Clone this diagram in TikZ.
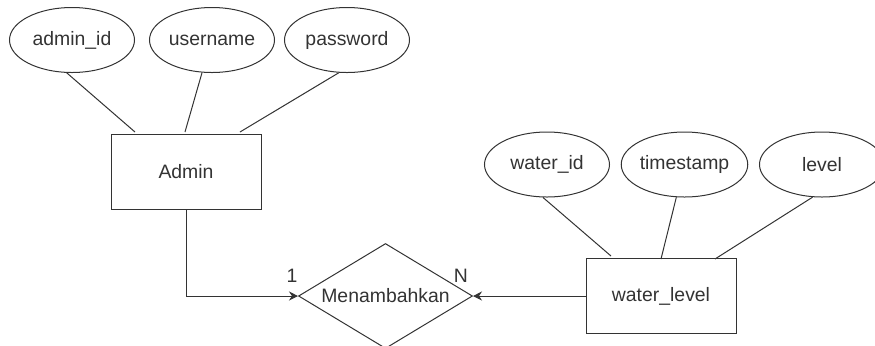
\documentclass[tikz,border=0pt]{standalone}
\usepackage{fontspec}
\setmainfont{Liberation Sans}
\usetikzlibrary{shapes.geometric}
\usetikzlibrary{arrows.meta}
\usetikzlibrary{positioning}
\definecolor{ink}{HTML}{333333}
\tikzset{
  entity/.style = {draw=ink, rectangle, minimum width=75pt, minimum height=37.5pt, inner sep=0pt},
  attrib/.style = {draw=ink, ellipse, minimum width=62.5pt, minimum height=32.5pt, inner sep=0pt},
  relation/.style = {draw=ink, diamond, aspect=1.65, minimum width=87pt, minimum height=52.5pt, inner sep=0pt},
  link/.style = {color=ink, line width=0.5pt},
  rel arrow/.style = {link, -{Stealth[length=4.5pt, width=4.5pt]}},
  card/.style = {inner sep=0pt},
  every node/.style = {text=ink, line width=0.5pt, font=\fontsize{9.7}{11}\selectfont}
}

\begin{document}
\begin{tikzpicture}[x=0.5pt, y=-0.5pt]
    \useasboundingbox (0,0) rectangle (875,345);
    \clip (0,0) rectangle (875,345);

    %==== Admin ====
    \node[entity] (admin) at (186,171.5) {Admin};

    % Attributes
    \node[attrib] (admin_id) at (72,40) {admin\_id};
    \node[attrib] (username) at (212,40) {username};
    \node[attrib] (password) at (347,40) {password};

    % Links
    \coordinate (a1) at (135,132);
    \coordinate (a2) at (185,132);
    \coordinate (a3) at (240,132);
    \draw[link] (admin_id.261) -- (a1);
    \draw[link] (username.253) -- (a2);
    \draw[link] (password.256) -- (a3);

    %==== water_level ====
    \node[entity] (water_level) at (661,296) {water\_level};

    % Attributes
    \node[attrib] (water_id) at (547,164.5) {water\_id};
    \node[attrib] (timestamp) at (684.5,164.5) {timestamp};
    \node[attrib] (level) at (822,164.5) {level};

    % Links
    \coordinate (w1) at (611,256);
    \coordinate (w2) at (661,259);
    \coordinate (w3) at (715,259);
    \draw[link] (water_id.263) -- (w1);
    \draw[link] (timestamp.256) -- (w2);
    \draw[link] (level.254) -- (w3);

    %==== Relation ====
    \node[relation] (menambahkan) at (385.5,296) {Menambahkan};

    % Connectors
    \draw[rel arrow] (admin.south) |- (menambahkan.west);
    \draw[rel arrow] (water_level.west) -- (menambahkan.east);

    % Cardinalities
    \node[card] (one) at (292,276) {1};
    \node[card] (many) at (461,276) {N};
\end{tikzpicture}
\end{document}
